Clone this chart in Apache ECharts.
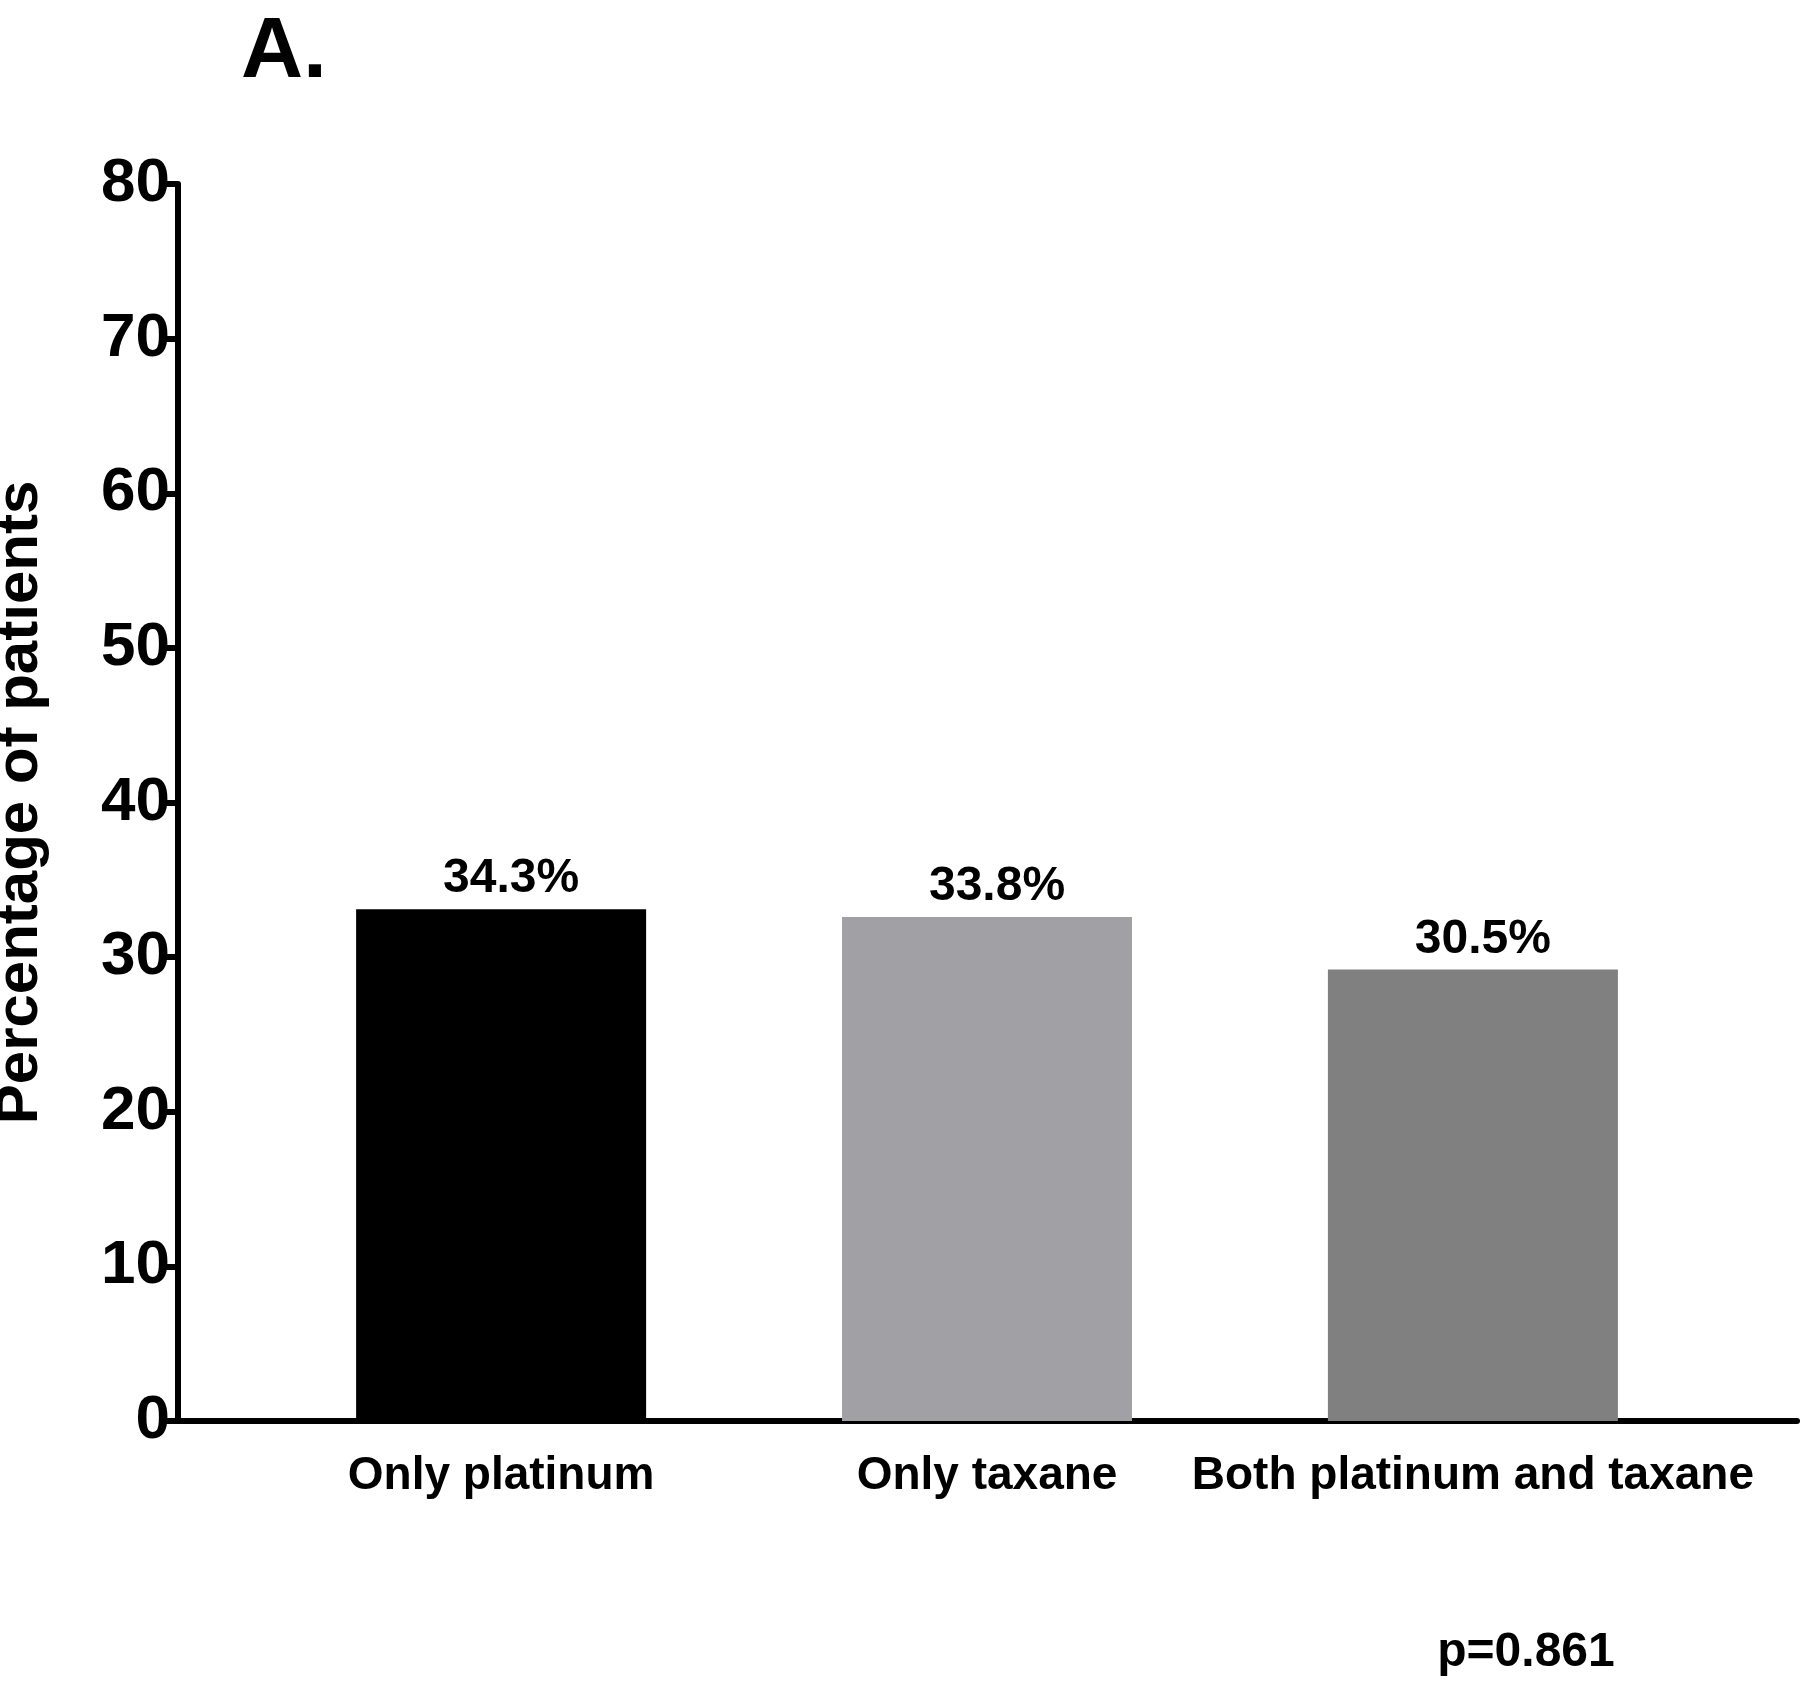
<!DOCTYPE html>
<html><head><meta charset="utf-8">
<script src="https://cdn.jsdelivr.net/npm/echarts@6/dist/echarts.min.js"></script>
<style>html,body{margin:0;padding:0;background:#fff}#c{width:1800px;height:1685px}</style>
</head><body><div id="c"></div>
<script>
const categories = ['Only platinum', 'Only taxane', 'Both platinum and taxane'];
const values = [33.1, 32.6, 29.2];
const valueLabels = ['34.3%', '33.8%', '30.5%'];
const colors = ['#000000', '#a1a1a5', '#808080'];
const yTicks = [0, 10, 20, 30, 40, 50, 60, 70, 80];
const F = 'Liberation Sans, Arial, sans-serif';
const chart = echarts.init(document.getElementById('c'));
chart.setOption({
  animation: false,
  grid: {left: 178, right: 3, top: 184, bottom: 264, outerBoundsMode: 'none', containLabel: false},
  xAxis: {
    type: 'value', min: 0.335, max: 3.667,
    axisLine: {show: true, onZero: false, lineStyle: {color: '#000', width: 6}},
    axisTick: {show: false}, splitLine: {show: false},
    axisLabel: {customValues: [1, 2, 3], formatter: v => categories[Math.round(v) - 1] || '',
      fontFamily: F, fontWeight: 'bold', fontSize: 46, color: '#000', margin: 32}
  },
  yAxis: {
    type: 'value', min: 0, max: 80, interval: 10,
    name: 'Percentage of patients', nameLocation: 'middle', nameGap: 128,
    nameTextStyle: {fontFamily: F, fontWeight: 'bold', fontSize: 60, color: '#000'},
    axisLine: {show: true, lineStyle: {color: '#000', width: 6}},
    axisTick: {show: true, length: 17, lineStyle: {width: 6, color: '#000'}},
    splitLine: {show: false},
    axisLabel: {fontFamily: F, fontWeight: 'bold', fontSize: 62, color: '#000', margin: 8,
      formatter: v => yTicks.includes(v) ? String(v) : ''}
  },
  series: [{
    type: 'bar', barWidth: 290,
    data: values.map((v, i) => ({value: [i + 1, v], itemStyle: {color: colors[i]}})),
    label: {show: true, position: 'top', distance: 6, formatter: p => valueLabels[p.dataIndex],
      fontFamily: F, fontWeight: 'bold', fontSize: 48, color: '#000', offset: [10, 0]}
  }],
  graphic: [
    {type: 'text', left: 241, top: 10, style: {text: 'A.', font: 'bold 86px ' + F, fill: '#000'}},
    {type: 'text', x: 1526, y: 1653, style: {text: 'p=0.861', font: 'bold 48px ' + F, fill: '#000', align: 'center', verticalAlign: 'middle'}}
  ]
});
</script></body></html>
